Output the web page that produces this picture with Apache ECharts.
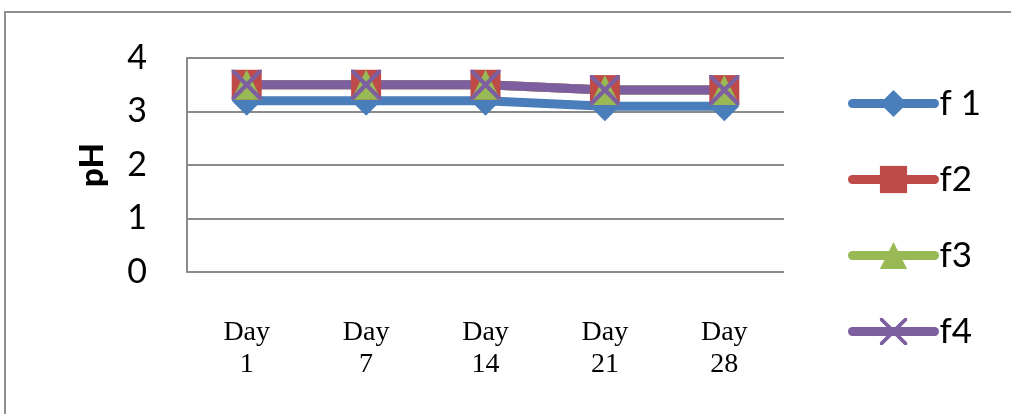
<!DOCTYPE html>
<html>
<head>
<meta charset="utf-8">
<script src="https://cdn.jsdelivr.net/npm/echarts@6/dist/echarts.min.js"></script>
<style>
  html, body { margin: 0; padding: 0; background: #fff; }
  #chart { width: 1011px; height: 414px; }
</style>
</head>
<body>
<div id="chart"></div>
<script>
// Sampling days
const days = ['Day 1', 'Day 7', 'Day 14', 'Day 21', 'Day 28'];

// pH readings per formulation
const f1 = [3.2, 3.2, 3.2, 3.1, 3.1];
const f2 = [3.5, 3.5, 3.5, 3.4, 3.4];
const f3 = [3.5, 3.5, 3.5, 3.4, 3.4];
const f4 = [3.5, 3.5, 3.5, 3.4, 3.4];

const seriesNames = ['f 1', 'f2', 'f3', 'f4'];
const yTicks = { min: 0, max: 4, step: 1 };

// thin cross glyph for the f4 markers
const crossPath = 'path://M0,0 L10,0 L50,40 L90,0 L100,0 L100,10 L60,50 L100,90 L100,100 L90,100 L50,60 L10,100 L0,100 L0,90 L40,50 L0,10 Z';

const colors = ['#4A7EBB', '#BE4B48', '#98B954', '#7D5FA0'];
const symbols = ['diamond', 'rect', 'triangle', crossPath];
const dataSets = [f1, f2, f3, f4];

const chart = echarts.init(document.getElementById('chart'), null, { renderer: 'canvas' });

chart.setOption({
  animation: false,
  backgroundColor: '#ffffff',
  graphic: [{
    type: 'rect',
    shape: { x: 5, y: 12, width: 1200, height: 600 },
    style: { fill: 'none', stroke: '#8e8e8e', lineWidth: 2 },
    silent: true
  }],
  grid: { left: 187, right: 227, top: 58, bottom: 142 },
  legend: {
    orient: 'vertical',
    left: 843,
    top: 81,
    itemWidth: 82,
    itemHeight: 34,
    itemGap: 41,
    lineStyle: { width: 9, cap: 'round' },
    textStyle: { fontFamily: 'Lato', fontSize: 35, color: '#000', padding: [0, 0, 0, 0] },
    data: seriesNames
  },
  xAxis: {
    type: 'category',
    data: days,
    boundaryGap: true,
    axisLine: { show: false },
    axisTick: { show: false },
    axisLabel: {
      margin: 45,
      interval: 0,
      fontFamily: 'Liberation Serif',
      fontSize: 28,
      lineHeight: 32,
      color: '#000',
      formatter: v => v.replace(' ', '\n')
    }
  },
  yAxis: {
    type: 'value',
    min: yTicks.min,
    max: yTicks.max,
    interval: yTicks.step,
    name: 'pH',
    nameLocation: 'middle',
    nameGap: 78,
    nameTextStyle: { fontFamily: 'Lato', fontWeight: 900, fontSize: 33, color: '#000' },
    axisLine: { show: true, lineStyle: { color: '#8a8a8a', width: 2 } },
    axisTick: { show: false },
    axisLabel: { margin: 40, fontFamily: 'Lato', fontSize: 34, color: '#000' },
    splitLine: { show: true, lineStyle: { color: '#8a8a8a', width: 2 } }
  },
  series: seriesNames.map((name, i) => ({
    name: name,
    type: 'line',
    data: dataSets[i],
    symbol: symbols[i],
    symbolSize: 30,
    showAllSymbol: true,
    color: colors[i],
    lineStyle: { width: 9, color: colors[i], cap: 'round', join: 'round' },
    itemStyle: { color: colors[i], borderWidth: 0 },
    emphasis: { disabled: true }
  }))
});
</script>
</body>
</html>
